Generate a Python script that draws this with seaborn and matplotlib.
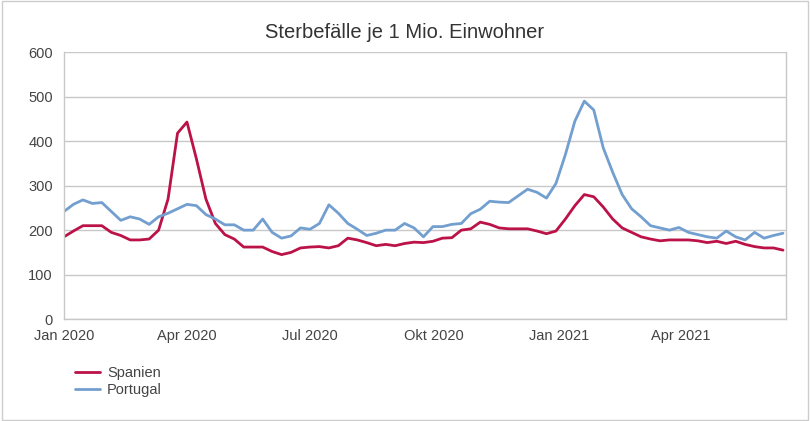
import pandas as pd
import numpy as np
import matplotlib
matplotlib.use('Agg')
import matplotlib.pyplot as plt
import seaborn as sns

# weekly values
spanien = [185, 198, 210, 210, 210, 195, 188, 178, 178, 180,
           200, 270, 418, 443, 360, 270, 215, 190, 180, 162,
           162, 162, 152, 145, 150, 160, 162, 163, 160, 165,
           182, 178, 172, 165, 168, 165, 170, 173, 172, 175,
           182, 183, 200, 203, 218, 213, 205, 203, 203, 203,
           198, 192, 198, 225, 255, 280, 275, 252, 225, 205,
           195, 185, 180, 176, 178, 178, 178, 176, 172, 175,
           170, 175, 168, 163, 160, 160, 155]
portugal = [242, 258, 268, 260, 262, 242, 222, 230, 225, 213,
            230, 238, 248, 258, 255, 235, 225, 212, 212, 200,
            200, 225, 195, 182, 187, 205, 202, 215, 257, 238,
            215, 202, 188, 193, 200, 200, 215, 205, 185, 208,
            208, 213, 215, 237, 247, 265, 263, 262, 277, 292,
            285, 272, 305, 370, 445, 490, 470, 385, 330, 280,
            248, 230, 210, 205, 200, 206, 195, 190, 185, 182,
            198, 185, 178, 195, 182, 188, 193]
dates = pd.date_range('2020-01-01', periods=len(spanien), freq='7D')

tick_dates = pd.to_datetime(['2020-01-01', '2020-04-01', '2020-07-01',
                             '2020-10-01', '2021-01-01', '2021-04-01'])
tick_labels = ['Jan 2020', 'Apr 2020', 'Jul 2020', 'Okt 2020', 'Jan 2021', 'Apr 2021']

df = pd.DataFrame({'Datum': list(dates) * 2,
                   'Wert': spanien + portugal,
                   'Land': ['Spanien'] * len(spanien) + ['Portugal'] * len(portugal)})

sns.set_style('white')
plt.rcParams['font.family'] = ['Liberation Sans', 'DejaVu Sans']

fig = plt.figure(figsize=(8.1, 4.21), dpi=100)
ax = fig.add_axes([0.079, 0.242, 0.891, 0.634])

sns.lineplot(data=df, x='Datum', y='Wert', hue='Land',
             palette={'Spanien': '#bb1248', 'Portugal': '#729fcf'},
             linewidth=2, ax=ax)

ax.set_xlim(dates[0], dates[-1] + pd.Timedelta(days=2))
ax.set_ylim(0, 600)
ax.set_yticks(range(0, 601, 100))
ax.set_xticks(tick_dates)
ax.set_xticklabels(tick_labels)
ax.grid(axis='y', color='#c8c8c8', linewidth=1)
ax.set_axisbelow(True)
for s in ax.spines.values():
    s.set_color('#c8c8c8')
    s.set_linewidth(1)
ax.spines['top'].set_visible(False)
ax.tick_params(axis='x', length=4, color='#c8c8c8', colors='#444444', labelsize=10.5, pad=3)
ax.tick_params(axis='y', length=0, colors='#444444', labelsize=10.5, pad=8)
ax.set_xlabel('')
ax.set_ylabel('')

# title is centred on the whole picture, not on the axes
fig.text(0.5, 0.922, 'Sterbefälle je 1 Mio. Einwohner', ha='center', va='center',
         fontsize=14.5, color='#333333')

ax.legend(loc='upper left', bbox_to_anchor=(0.007, -0.155), frameon=False,
          fontsize=10.5, handlelength=1.7, labelspacing=0.2,
          borderaxespad=0, handletextpad=0.5, labelcolor='#444444')

# light frame around the whole picture
fig.patches.append(plt.Rectangle((0.002, 0.003), 0.996, 0.994, transform=fig.transFigure,
                                 fill=False, edgecolor='#cccccc', linewidth=1))

fig.savefig('out.png', dpi=100)
